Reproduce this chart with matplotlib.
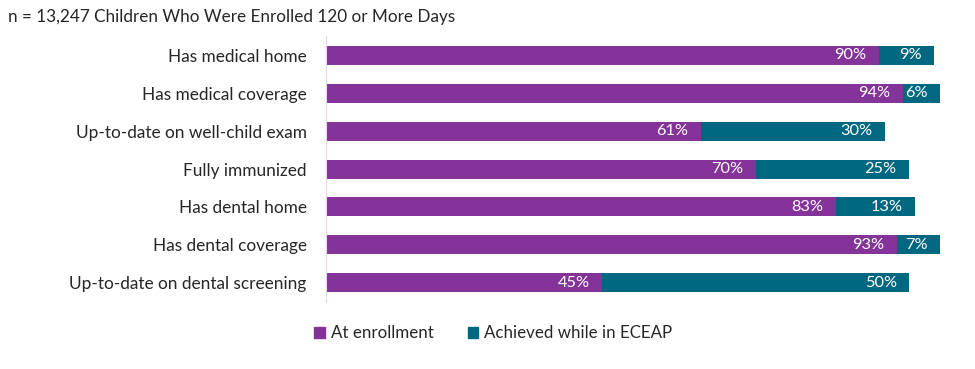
import numpy as np
import matplotlib.pyplot as plt
from matplotlib.patches import Patch

plt.rcParams['font.family'] = ['Lato', 'DejaVu Sans']

# Data
categories = ['Has medical home', 'Has medical coverage', 'Up-to-date on well-child exam',
              'Fully immunized', 'Has dental home', 'Has dental coverage',
              'Up-to-date on dental screening']
at_enrollment = [90, 94, 61, 70, 83, 93, 45]
achieved = [9, 6, 30, 25, 13, 7, 50]
series_names = ['At enrollment', 'Achieved while in ECEAP']

purple = '#843399'
teal = '#006780'

fig = plt.figure(figsize=(9.75, 3.69), dpi=100)
ax = fig.add_axes([0.3344, 0.1816, 0.6297, 0.7208])

y = np.arange(len(categories))
ax.barh(y, at_enrollment, height=0.5, color=purple)
ax.barh(y, achieved, left=at_enrollment, height=0.5, color=teal)

# value labels, right-aligned inside the end of each segment
for i in range(len(categories)):
    ends = [at_enrollment[i], at_enrollment[i] + achieved[i]]
    vals = [at_enrollment[i], achieved[i]]
    for e, v in zip(ends, vals):
        ax.annotate(f'{v}%', (e, y[i]), xytext=(-9, 0), textcoords='offset points',
                    ha='right', va='center', color='white', fontsize=11.8)

ax.set_xlim(0, 100)
ax.set_ylim(len(categories) - 0.5, -0.5)
ax.set_yticks(y)
ax.set_yticklabels(categories, fontsize=12.4, color='#262626')
ax.tick_params(axis='y', length=0, pad=14)
ax.set_xticks([])
for s in ['top', 'right', 'bottom']:
    ax.spines[s].set_visible(False)
ax.spines['left'].set_color('#ead5ee')

fig.text(0.008, 0.955, 'n = 13,247 Children Who Were Enrolled 120 or More Days',
         fontsize=12.3, color='#262626', va='center')

handles = [Patch(color=purple), Patch(color=teal)]
fig.legend(handles, series_names, loc='center', bbox_to_anchor=(0.506, 0.0976), ncol=2,
           frameon=False, fontsize=12.2, handlelength=0.62, handleheight=0.62,
           handletextpad=0.35, columnspacing=2.0, labelcolor='#262626')

fig.savefig('out.png', dpi=100)
